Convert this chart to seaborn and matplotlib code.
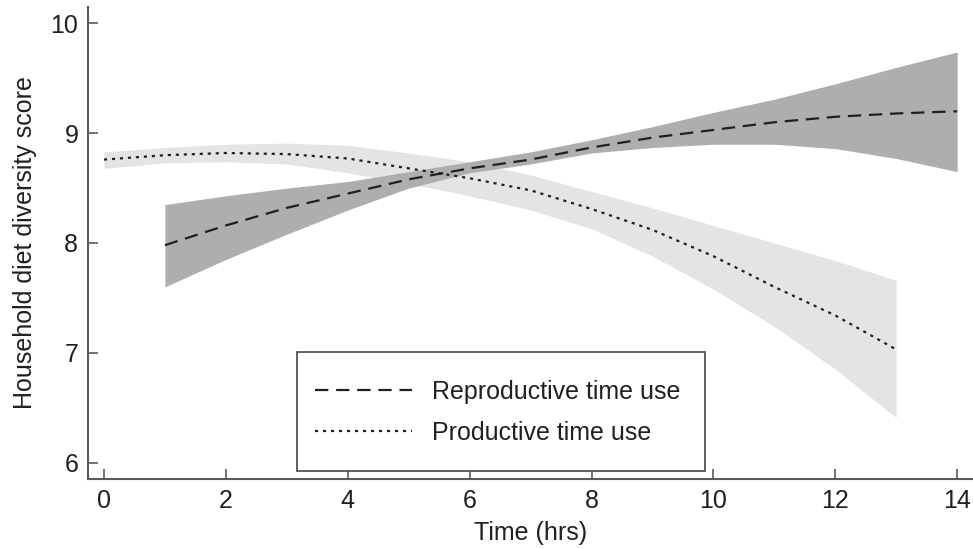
"""Household diet diversity score vs time use (fitted curves with CIs)."""

import matplotlib

matplotlib.use("Agg")
import matplotlib.pyplot as plt
import pandas as pd
import seaborn as sns
from matplotlib.patches import Rectangle

# Productive time use (dotted, light band)
prod_hours = [0, 1, 2, 3, 4, 5, 6, 7, 8, 9, 10, 11, 12, 13]
prod_mean = [8.76, 8.80, 8.82, 8.81, 8.77, 8.68, 8.59, 8.48, 8.31, 8.12, 7.88, 7.60, 7.34, 7.03]
prod_upper = [8.83, 8.87, 8.90, 8.91, 8.89, 8.82, 8.74, 8.62, 8.47, 8.32, 8.16, 8.00, 7.84, 7.66]
prod_lower = [8.68, 8.73, 8.74, 8.72, 8.64, 8.54, 8.43, 8.30, 8.13, 7.88, 7.58, 7.24, 6.85, 6.41]

# Reproductive time use (dashed, dark band)
repr_hours = [1, 2, 3, 4, 5, 6, 7, 8, 9, 10, 11, 12, 13, 14]
repr_mean = [7.98, 8.16, 8.32, 8.45, 8.58, 8.68, 8.76, 8.87, 8.96, 9.03, 9.10, 9.15, 9.18, 9.20]
repr_upper = [8.35, 8.43, 8.50, 8.56, 8.65, 8.74, 8.83, 8.94, 9.06, 9.19, 9.31, 9.45, 9.60, 9.74]
repr_lower = [7.60, 7.85, 8.08, 8.30, 8.50, 8.64, 8.72, 8.82, 8.87, 8.90, 8.90, 8.86, 8.77, 8.65]

x_ticks = [0, 2, 4, 6, 8, 10, 12, 14]
y_ticks = [6, 7, 8, 9, 10]

sns.set_style("white")
plt.rcParams["font.family"] = ["Liberation Sans", "DejaVu Sans"]

INK = "#231f20"
AXIS = "#5a5a5a"
FS = 18

fig = plt.figure(figsize=(9.73, 5.49), dpi=100)
ax = fig.add_axes([88 / 973, 70 / 549, 885 / 973, 472 / 549])

prod = pd.DataFrame({"hours": prod_hours, "mean": prod_mean, "lo": prod_lower, "hi": prod_upper})
repr_ = pd.DataFrame({"hours": repr_hours, "mean": repr_mean, "lo": repr_lower, "hi": repr_upper})

# Bands: light first, dark on top
ax.fill_between(prod["hours"], prod["lo"], prod["hi"], color="#e3e4e6", lw=0, zorder=1)
ax.fill_between(repr_["hours"], repr_["lo"], repr_["hi"], color="#adaeb0", lw=0, zorder=2)

sns.lineplot(data=prod, x="hours", y="mean", ax=ax, color=INK, lw=1.6,
             zorder=3, label="Productive time use")
sns.lineplot(data=repr_, x="hours", y="mean", ax=ax, color=INK, lw=1.6,
             zorder=3, label="Reproductive time use")
ax.lines[0].set_dashes([1.4, 2.2])
ax.lines[1].set_dashes([6, 3.5])

ax.set_xlim(-0.262, 14.26)
ax.set_ylim(5.85, 10.15)
ax.set_xticks(x_ticks)
ax.set_yticks(y_ticks)
ax.tick_params(bottom=True, left=True, direction="in", length=7, width=1.2,
               color=AXIS, labelsize=FS, labelcolor=INK, pad=7)
for side in ("top", "right"):
    ax.spines[side].set_visible(False)
for side in ("left", "bottom"):
    ax.spines[side].set_color(AXIS)
    ax.spines[side].set_linewidth(1.5)

ax.set_xlabel("Time (hrs)", fontsize=FS, color=INK, labelpad=6)
ax.set_ylabel("Household diet diversity score", fontsize=FS, color=INK, labelpad=10)

# Legend box drawn by hand, legend entries inside without frame
box_x0, box_y0 = (297 - 88) / 885, (479 - 471) / 472
box_w, box_h = (705 - 297) / 885, (471 - 352) / 472
ax.add_patch(Rectangle((box_x0, box_y0), box_w, box_h, transform=ax.transAxes,
                       facecolor="white", edgecolor="#444444", lw=1.2, zorder=5))
handles, labels = ax.get_legend_handles_labels()
leg = ax.legend(handles[::-1], labels[::-1], loc="center",
                bbox_to_anchor=(box_x0 + box_w / 2 - 0.004, box_y0 + box_h / 2 - 0.002),
                frameon=False, fontsize=FS, handlelength=3.9, handletextpad=0.8,
                labelspacing=0.68)
leg.set_zorder(6)
for t in leg.get_texts():
    t.set_color(INK)

fig.savefig("out.png", dpi=100)
